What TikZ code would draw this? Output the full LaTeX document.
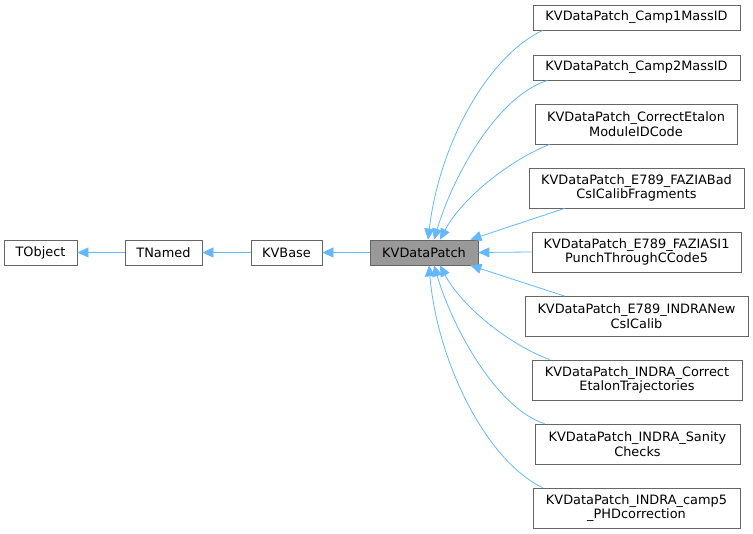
\documentclass[tikz,border=0pt]{standalone}
\usepackage{fontspec}
\setmainfont{DejaVu Sans}
\usetikzlibrary{arrows.meta}
\definecolor{edgeblue}{HTML}{63B8FF}
\definecolor{boxborder}{HTML}{666666}
\definecolor{boxgray}{HTML}{999999}
\begin{document}
\begin{tikzpicture}[x=1pt,y=-1pt,
  cls/.style={draw=boxborder, line width=0.8pt, fill=white, inner sep=0pt, align=center,
    font=\fontsize{12.9}{14.7}\selectfont, text=black},
  one/.style={cls, minimum height=25pt},
  two/.style={cls, minimum height=40pt},
  inh/.style={draw=edgeblue, line width=0.8pt, -{Triangle[length=11pt,width=10pt]}}]
\useasboundingbox (0,0) rectangle (753,534);
% left chain
\node[one, minimum width=73pt] (tobject) at (40.5,252.5) {TObject};
\node[one, minimum width=77pt] (tnamed) at (163.5,252.5) {TNamed};
\node[one, minimum width=71pt] (kvbase) at (286.5,252.5) {KVBase};
\node[one, minimum width=108pt, fill=boxgray] (kv) at (424,252.5) {KVDataPatch};
% right column
\node[one, minimum width=207pt] (c1) at (636.5,17.5) {KVDataPatch\_Camp1MassID};
\node[one, minimum width=207pt] (c2) at (636.5,67.5) {KVDataPatch\_Camp2MassID};
\node[two, minimum width=202pt] (c3) at (636,124) {KVDataPatch\_CorrectEtalon\\ModuleIDCode};
\node[two, minimum width=215pt] (c4) at (636.5,188) {KVDataPatch\_E789\_FAZIABad\\CsICalibFragments};
\node[two, minimum width=209pt] (c5) at (636.5,252) {KVDataPatch\_E789\_FAZIASI1\\PunchThroughCCode5};
\node[two, minimum width=223pt] (c6) at (636.5,316.5) {KVDataPatch\_E789\_INDRANew\\CsICalib};
\node[two, minimum width=210pt] (c7) at (637,380) {KVDataPatch\_INDRA\_Correct\\EtalonTrajectories};
\node[two, minimum width=205pt] (c8) at (637.5,444) {KVDataPatch\_INDRA\_Sanity\\Checks};
\node[two, minimum width=207pt] (c9) at (636.5,508) {KVDataPatch\_INDRA\_camp5\\\_PHDcorrection};
% chain edges
\draw[inh] (tnamed.west) -- (tobject.east);
\draw[inh] (kvbase.west) -- (tnamed.east);
\draw[inh] (kv.west) -- (kvbase.east);
% derived edges
\draw[inh] ([xshift=10pt]c1.south west) .. controls (490,55) and (440,140) .. ([xshift=4pt]kv.north);
\draw[inh] ([xshift=15pt]c2.south west) .. controls (500,95) and (455,170) .. ([xshift=10pt]kv.north);
\draw[inh] ([xshift=15pt]c3.south west) .. controls (510,160) and (462,198) .. ([xshift=16pt]kv.north);
\draw[inh] ([xshift=36pt]c4.south west) -- ([xshift=-8pt]kv.north east);
\draw[inh] (c5.west) -- (kv.east);
\draw[inh] ([xshift=40pt]c6.north west) -- ([xshift=-8pt]kv.south east);
\draw[inh] ([xshift=18pt]c7.north west) .. controls (510,345) and (462,307) .. ([xshift=16pt]kv.south);
\draw[inh] ([xshift=10pt]c8.north west) .. controls (500,410) and (455,335) .. ([xshift=10pt]kv.south);
\draw[inh] ([xshift=10pt]c9.north west) .. controls (485,460) and (437,360) .. ([xshift=5pt]kv.south);
\end{tikzpicture}
\end{document}
